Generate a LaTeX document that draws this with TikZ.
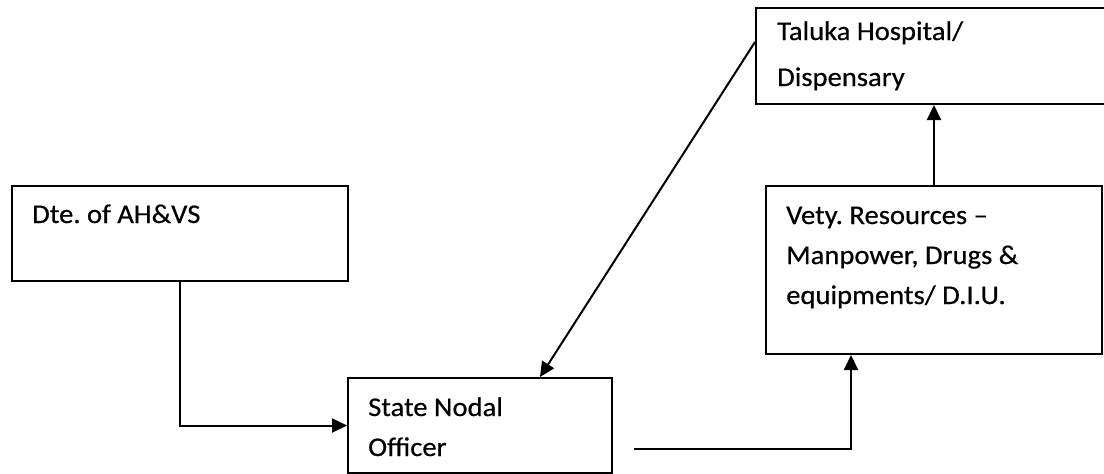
\documentclass[tikz,border=0pt]{standalone}
\usepackage{fontspec}
\setmainfont{Carlito}[FakeStretch=1.06,FakeBold=0.5]
\usetikzlibrary{arrows.meta}
\frenchspacing
\tikzset{
  box/.style={draw, line width=2pt, inner sep=0pt, anchor=north west},
  lbl/.style={anchor=base west, inner sep=0pt, font=\fontsize{27}{32}\selectfont},
  arr/.style={line width=2pt, -{Triangle[length=15pt,width=14pt]}},
}
\begin{document}
\begin{tikzpicture}[x=1pt,y=-1pt]
\clip (0,0) rectangle (1104,474);
\node[box, minimum width=351pt, minimum height=96pt] (taluka) at (755,7) {};
\node[box, minimum width=336pt, minimum height=95pt] (dte) at (11,185) {};
\node[box, minimum width=336pt, minimum height=168pt] (vety) at (765,185) {};
\node[box, minimum width=264pt, minimum height=95pt] (state) at (347,377) {};

\node[lbl] (t1) at (777,40) {Taluka Hospital/};
\node[lbl] (t2) at (777,86) {Dispensary};
\node[lbl] (d1) at (32,223) {Dte. of AH\&VS};
\node[lbl] (v1) at (786,224) {Vety. Resources –};
\node[lbl] (v2) at (786,264) {Manpower, Drugs \&};
\node[lbl] (v3) at (786,304) {equipments/ D.I.U.};
\node[lbl] (s1) at (368,416) {State Nodal};
\node[lbl] (s2) at (368,456) {Officer};

\coordinate (tOut) at ([yshift=-35pt]taluka.north west);
\coordinate (sIn) at ([xshift=193pt]state.north west);
\coordinate (sOut) at (634,449);
\coordinate (vIn) at ([xshift=86pt]vety.south west);

\draw[arr] (dte.south) |- (state.west);
\draw[arr] (tOut) -- (sIn);
\draw[arr] (sOut) -| (vIn);
\draw[arr] (vety.north) -- (vety.north |- taluka.south);
\end{tikzpicture}
\end{document}
